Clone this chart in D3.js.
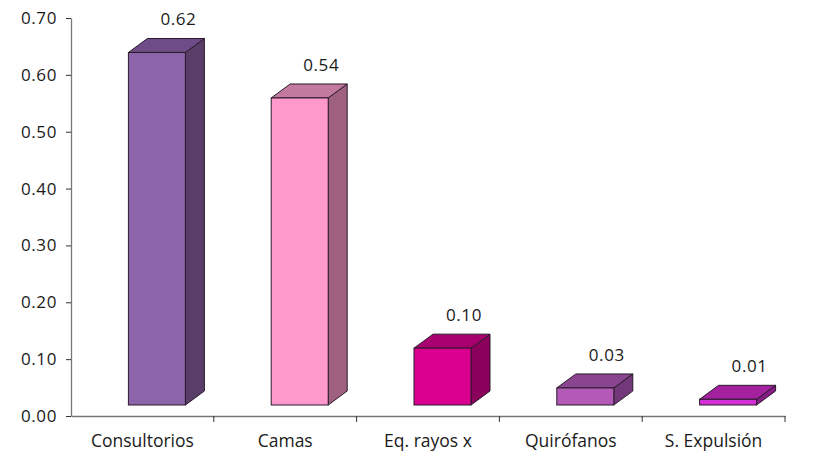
<!DOCTYPE html>
<html>
<head>
<meta charset="utf-8">
<script src="https://cdn.jsdelivr.net/npm/d3@7"></script>
<style>
    body { margin: 0; background: #fff; }
    svg text { font-family: "Open Sans", Lato, sans-serif; fill: #1a1a1a; }
</style>
</head>
<body>
<svg id="chart" width="813" height="454"></svg>
<script>
var categories = ["Consultorios", "Camas", "Eq. rayos x", "Quirófanos", "S. Expulsión"];
var values = [0.62, 0.54, 0.10, 0.03, 0.01];
var yTicks = [0, 0.1, 0.2, 0.3, 0.4, 0.5, 0.6, 0.7];
var frontColors = ["#8b64aa", "#ff99cc", "#d9008f", "#b35ab6", "#d42fd4"];
var topColors = ["#6e4c87", "#c27a9e", "#a8006e", "#8a4590", "#a3209f"];
var sideColors = ["#5a3e6a", "#a0607f", "#8a005b", "#723879", "#861c86"];

var svg = d3.select("svg#chart"),
    margin = { left: 71, top: 18, right: 28, bottom: 38 },
    width = +svg.attr("width"),
    height = +svg.attr("height"),
    x_scale = d3
        .scaleBand()
        .domain(categories)
        .range([margin.left, width - margin.right]),
    y_scale = d3
        .scaleLinear()
        .domain([0, 0.7])
        .range([height - margin.bottom, margin.top]),
    depth = { dx: 19, dy: -14 },
    lift = 11,
    barW = 57;

// y axis
var yAxis = svg.append("g")
    .attr("transform", "translate(" + margin.left + ",0)")
    .call(d3.axisLeft(y_scale).tickValues(yTicks).tickFormat(d3.format(".2f")).tickSize(5).tickSizeOuter(0));
yAxis.select(".domain").attr("stroke", "#777").attr("stroke-width", 1.3);
yAxis.selectAll(".tick line").attr("stroke", "#333");
yAxis.selectAll(".tick text").attr("x", -14).style("font-size", "17px").style("letter-spacing", "0.6px");

// x axis
var xAxis = svg.append("g")
    .attr("transform", "translate(0," + y_scale(0) + ")")
    .call(d3.axisBottom(x_scale).tickSize(0).tickSizeOuter(0));
xAxis.select(".domain").attr("stroke", "#777").attr("stroke-width", 1.3);
xAxis.selectAll(".tick text").attr("dy", "0").attr("y", 31).style("font-size", "17.5px");

// category divider ticks
svg.append("g")
    .selectAll("line")
    .data(categories)
    .enter()
    .append("line")
    .attr("x1", d => x_scale(d) + x_scale.bandwidth())
    .attr("x2", d => x_scale(d) + x_scale.bandwidth())
    .attr("y1", y_scale(0))
    .attr("y2", y_scale(0) + 6)
    .attr("stroke", "#333");

// bars
var bars = svg.append("g")
    .selectAll("g.bar")
    .data(categories)
    .enter()
    .append("g")
    .attr("class", "bar");

function frontLeft(i) {
    return x_scale(categories[i]) + x_scale.bandwidth() / 2 - 14;
}
function frontTop(i) {
    return y_scale(values[i]) - lift;
}
var base = y_scale(0) - lift;

bars.append("path")
    .attr("d", (d, i) => {
        var x0 = frontLeft(i) + barW, y0 = frontTop(i);
        return "M" + x0 + "," + y0 + "L" + (x0 + depth.dx) + "," + (y0 + depth.dy) +
            "L" + (x0 + depth.dx) + "," + (base + depth.dy) + "L" + x0 + "," + base + "Z";
    })
    .attr("fill", (d, i) => sideColors[i])
    .attr("stroke", "#2a1a2a")
    .attr("stroke-width", 1)
    .attr("stroke-linejoin", "round");

bars.append("path")
    .attr("d", (d, i) => {
        var x0 = frontLeft(i), y0 = frontTop(i);
        return "M" + x0 + "," + y0 + "L" + (x0 + depth.dx) + "," + (y0 + depth.dy) +
            "L" + (x0 + barW + depth.dx) + "," + (y0 + depth.dy) + "L" + (x0 + barW) + "," + y0 + "Z";
    })
    .attr("fill", (d, i) => topColors[i])
    .attr("stroke", "#2a1a2a")
    .attr("stroke-width", 1)
    .attr("stroke-linejoin", "round");

bars.append("rect")
    .attr("x", (d, i) => frontLeft(i))
    .attr("y", (d, i) => frontTop(i))
    .attr("width", barW)
    .attr("height", (d, i) => base - frontTop(i))
    .attr("fill", (d, i) => frontColors[i])
    .attr("stroke", "#2a1a2a")
    .attr("stroke-width", 1);

bars.append("text")
    .attr("x", (d, i) => frontLeft(i) + 50)
    .attr("y", (d, i) => frontTop(i) + depth.dy - 13)
    .attr("text-anchor", "middle")
    .style("font-size", "17px")
    .style("letter-spacing", "0.6px")
    .text((d, i) => d3.format(".2f")(values[i]));
</script>
</body>
</html>
